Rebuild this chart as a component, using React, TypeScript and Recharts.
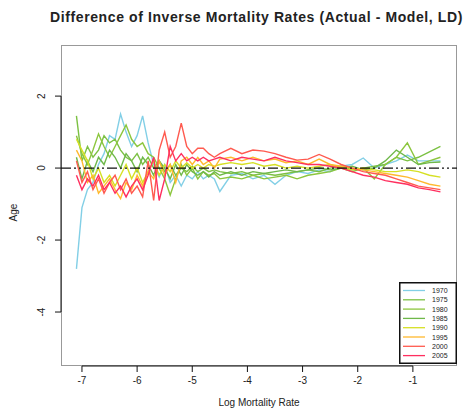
import React from "react";
import { Line, LineChart, ReferenceLine, XAxis, YAxis } from "recharts";

// log mortality rate grid (shared by all years)
const logRates = [
  -7.1, -7.0, -6.9, -6.8, -6.7, -6.6, -6.5, -6.4, -6.3, -6.2, -6.1, -6.0, -5.9,
  -5.8, -5.7, -5.6, -5.5, -5.4, -5.3, -5.2, -5.1, -5.0, -4.9, -4.8, -4.7, -4.6,
  -4.5, -4.3, -4.1, -3.9, -3.7, -3.5, -3.3, -3.1, -2.9, -2.7, -2.5, -2.3, -2.1,
  -1.9, -1.7, -1.5, -1.3, -1.1, -0.9, -0.7, -0.5,
];

const y1970 = [
  -2.8, -1.1, -0.6, -0.4, 0.1, 0.4, 0.9, 0.8, 1.5, 1.0, 0.6, 0.9, 1.45, 0.7,
  0.1, -0.25, 0.1, -0.4, -0.2, -0.5, -0.2, -0.3, -0.1, -0.3, -0.2, -0.3, -0.65,
  -0.2, -0.15, -0.3, -0.2, -0.45, -0.2, -0.1, -0.15, -0.05, -0.1, 0.05, 0.1,
  0.28, 0.0, 0.1, 0.2, 0.36, 0.2, 0.2, 0.2,
];
const y1975 = [
  1.45, 0.2, 0.6, 0.3, 0.5, 0.9, 0.7, 0.8, 0.5, 0.3, 0.2, 0.4, 0.1, 0.3, 0.0,
  0.2, -0.1, 0.1, -0.2, 0.0, -0.1, 0.05, -0.1, 0.0, -0.1, -0.05, -0.1, -0.15,
  -0.1, -0.2, -0.15, -0.2, -0.15, -0.1, -0.05, -0.1, 0.0, 0.05, -0.05, 0.0,
  0.05, 0.1, 0.3, 0.2, 0.3, 0.45, 0.6,
];
const y1980 = [
  0.9, 0.4, 0.1, 0.5, 0.95, 0.6, 0.3, 0.6, 0.9, 1.2, 0.8, 0.6, 0.7, 0.4, 0.3,
  0.0, -0.3, -0.75, -0.3, 0.1, -0.2, 0.0, -0.3, -0.1, -0.2, -0.15, -0.3, -0.25,
  -0.3, -0.2, -0.3, -0.25, -0.2, -0.3, -0.2, -0.15, -0.1, 0.0, -0.1, 0.0, -0.3,
  0.1, 0.3, 0.7, 0.1, 0.2, 0.3,
];
const y1985 = [
  0.3, -0.3, 0.2, -0.1, 0.3, 0.1, 0.5, 0.3, 0.0, 0.4, 0.2, -0.1, 0.3, 0.1,
  -0.2, 0.2, 0.0, -0.3, 0.1, -0.2, 0.1, -0.1, -0.2, -0.1, -0.25, -0.1, -0.2,
  -0.1, -0.2, -0.1, -0.15, -0.1, -0.05, -0.1, -0.05, 0.0, -0.05, 0.0, 0.05,
  -0.05, 0.0, 0.2, 0.5, 0.3, 0.1, 0.15, 0.17,
];
const y1990 = [
  0.8, 0.5, 0.2, -0.3, 0.0, -0.4, -0.2, -0.5, -0.2, 0.1, -0.3, 0.0, -0.4, -0.1,
  0.2, -0.2, 0.1, -0.1, 0.2, 0.0, 0.15, 0.0, 0.1, 0.0, 0.1, 0.05, 0.1, 0.15,
  0.1, 0.15, 0.05, 0.1, 0.0, 0.05, 0.0, 0.05, 0.1, 0.0, -0.05, 0.0, -0.05,
  -0.1, -0.1, -0.05, -0.1, -0.2, -0.25,
];
const y1995 = [
  0.5, 0.2, -0.4, -0.2, -0.7, -0.5, -0.3, -0.6, -0.85, -0.4, -0.6, -0.2, -0.5,
  -0.1, -0.3, 0.2, -0.2, 0.1, -0.4, 0.2, 0.3, 0.1, 0.3, 0.1, 0.2, 0.0, 0.25,
  0.3, 0.2, 0.3, 0.2, 0.25, 0.15, 0.2, 0.1, 0.25, 0.1, 0.05, 0.0, -0.05, -0.1,
  -0.15, -0.2, -0.25, -0.35, -0.45, -0.5,
];
const y2000 = [
  0.2, -0.4, -0.1, -0.6, -0.3, -0.7, -0.4, -0.2, -0.6, -0.3, -0.7, -0.5, -0.8,
  0.2, -0.9, 0.5, 1.0, 0.3, 0.6, 1.25, 0.6, 0.4, 0.55, 0.55, 0.4, 0.3, 0.4,
  0.55, 0.4, 0.5, 0.47, 0.4, 0.3, 0.22, 0.25, 0.38, 0.25, 0.1, 0.0, -0.1,
  -0.15, -0.2, -0.3, -0.4, -0.5, -0.55, -0.6,
];
const y2005 = [
  -0.2, -0.6, -0.3, -0.5, -0.2, -0.6, -0.4, -0.7, -0.5, -0.8, -0.5, -0.3, -0.6,
  -0.2, 0.3, -0.9, -0.3, 0.6, 0.2, 0.4, 0.2, 0.3, 0.2, 0.3, 0.2, 0.25, 0.3, 0.2,
  0.3, 0.25, 0.2, 0.3, 0.2, 0.15, 0.1, 0.1, 0.05, 0.0, -0.1, -0.2, -0.25,
  -0.35, -0.4, -0.45, -0.55, -0.6, -0.66,
];

const years = ["1970", "1975", "1980", "1985", "1990", "1995", "2000", "2005"];
const seriesValues = [y1970, y1975, y1980, y1985, y1990, y1995, y2000, y2005];
const colors = [
  "#82cfe6",
  "#7cc143",
  "#8cc63e",
  "#6fb84a",
  "#d6e024",
  "#ffb92e",
  "#ff5a4f",
  "#ff2f5f",
];

const xTicks = [-7, -6, -5, -4, -3, -2, -1];
const yTicks = [-4, -2, 0, 2];

const data = logRates.map((x, i) => {
  const row: Record<string, number> = { x };
  years.forEach((yr, k) => {
    row[yr] = seriesValues[k][i];
  });
  return row;
});

const font = "'Liberation Sans', Arial, sans-serif";

const YTick = (props: any) => {
  const { x, y, payload } = props;
  return (
    <text
      x={x - 8}
      y={y}
      transform={`rotate(-90, ${x - 8}, ${y})`}
      textAnchor="middle"
      fontSize={10}
      fontFamily={font}
      fill="#222"
    >
      {payload.value}
    </text>
  );
};

// legend drawn as its own small svg, sitting in the lower right of the plot
const LegendBox = () => (
  <svg
    width={58}
    height={82}
    style={{ position: "absolute", left: 399, top: 282 }}
  >
    <rect x={0.75} y={0.75} width={56.5} height={80.5} fill="#fff" stroke="#111" strokeWidth={1.5} />
    {years.map((yr, k) => {
      const y = 8.5 + k * 9.3;
      return (
        <g key={yr}>
          <line x1={4} x2={26} y1={y} y2={y} stroke={colors[k]} strokeWidth={1.3} />
          <text
            x={33}
            y={y + 2.5}
            fontSize={7}
            fontFamily={font}
            fill="#222"
          >
            {yr}
          </text>
        </g>
      );
    })}
  </svg>
);

export default function App() {
  return (
    <div
      style={{
        position: "absolute",
        left: 0,
        top: 0,
        width: 471,
        height: 415,
        background: "#fff",
      }}
    >
      <div
        style={{
          position: "absolute",
          left: 0,
          width: 471,
          top: 9,
          paddingLeft: 42,
          boxSizing: "border-box",
          textAlign: "center",
          fontFamily: font,
          fontWeight: "bold",
          fontSize: 14,
          letterSpacing: 0.6,
          color: "#222",
        }}
      >
        Difference of Inverse Mortality Rates (Actual - Model, LD)
      </div>
      <div
        style={{
          position: "absolute",
          left: 5,
          top: 207,
          transform: "rotate(-90deg)",
          fontFamily: font,
          fontSize: 10,
          color: "#222",
        }}
      >
        Age
      </div>
      <div
        style={{
          position: "absolute",
          left: 61,
          width: 396,
          top: 397,
          textAlign: "center",
          fontFamily: font,
          fontSize: 10,
          color: "#222",
        }}
      >
        Log Mortality Rate
      </div>
      {/* plot frame */}
      <div
        style={{
          position: "absolute",
          left: 61,
          top: 45,
          width: 396,
          height: 321,
          border: "1px solid #999",
          boxSizing: "border-box",
        }}
      />
      <div style={{ position: "absolute", left: 0, top: 0 }}>
        <LineChart
          width={471}
          height={415}
          data={data}
          margin={{ top: 45, right: 14, left: 0, bottom: 0 }}
        >
          <XAxis
            dataKey="x"
            type="number"
            domain={[-7.38, -0.2]}
            ticks={xTicks}
            allowDataOverflow
            height={49}
            axisLine={false}
            tickSize={6}
            tickLine={{ stroke: "#111" }}
            tick={{ fontSize: 10, fill: "#222", fontFamily: font, dy: 3 }}
          />
          <YAxis
            type="number"
            domain={[-5.5, 3.42]}
            ticks={yTicks}
            allowDataOverflow
            width={61}
            axisLine={false}
            tickSize={6}
            tickLine={{ stroke: "#111" }}
            tick={<YTick />}
          />
          <ReferenceLine
            segment={[
              { x: -7.38, y: -4 },
              { x: -7.38, y: 2 },
            ]}
            stroke="#111"
          />
          <ReferenceLine
            segment={[
              { x: -7, y: -5.5 },
              { x: -1, y: -5.5 },
            ]}
            stroke="#111"
          />
          {years.map((yr, k) => (
            <Line
              key={yr}
              type="linear"
              dataKey={yr}
              stroke={colors[k]}
              strokeWidth={1.4}
              dot={false}
              isAnimationActive={false}
            />
          ))}
          <ReferenceLine
            y={0}
            stroke="#111"
            strokeWidth={1.3}
            strokeDasharray="10 3 2 3 2 3"
          />
        </LineChart>
      </div>
      <LegendBox />
    </div>
  );
}
